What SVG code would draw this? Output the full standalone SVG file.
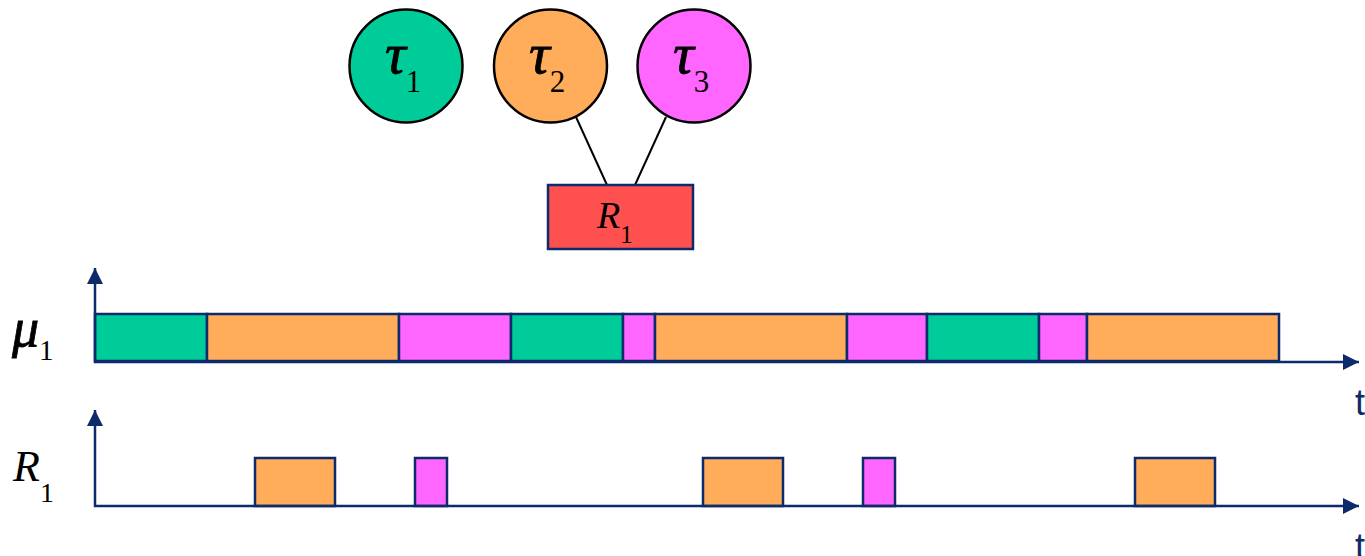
<svg xmlns="http://www.w3.org/2000/svg" width="1365" height="556" viewBox="0 0 1365 556">
  <defs>
    <marker id="arrow" viewBox="0 0 10 10" refX="10" refY="5" markerWidth="16" markerHeight="16" markerUnits="userSpaceOnUse" orient="auto-start-reverse">
      <path d="M0,0 L10,5 L0,10 Z" fill="#0D2A6B"/>
    </marker>
  </defs>
  <style>
    .task { stroke: #000; stroke-width: 2.5; }
    .res { fill: #FF5050; stroke: #0D2A6B; stroke-width: 2.5; }
    .seg { stroke: #0D2A6B; stroke-width: 2.5; }
    .g { fill: #00CC99; }
    .o { fill: #FFAD5B; }
    .m { fill: #FF66FF; }
    .axis { stroke: #0D2A6B; stroke-width: 2.5; fill: none; }
    .link { stroke: #000; stroke-width: 2; }
    text.math { font-family: "Liberation Serif", "Times New Roman", "DejaVu Serif", serif; font-style: italic; fill: #000; }
    tspan.sub { font-family: "Liberation Serif", "Times New Roman", "DejaVu Serif", serif; font-style: normal; }
    text.tlabel { font-family: "Liberation Sans", Arial, sans-serif; font-size: 36px; fill: #0D2A6B; }
  </style>

  <!-- task / resource graph -->
  <g id="connectors">
    <line class="link" x1="576" y1="117" x2="607" y2="185"/>
    <line class="link" x1="666" y1="117" x2="635" y2="185"/>
  </g>
  <g id="tau1">
    <circle class="task g" cx="406" cy="66" r="56.5"/>
    <text x="385" y="73" class="math" font-size="58" stroke="#000" stroke-width="0.8">τ<tspan class="sub" font-size="31" stroke="none" dy="19">1</tspan></text>
  </g>
  <g id="tau2">
    <circle class="task o" cx="550.5" cy="66" r="56.5"/>
    <text x="529" y="73" class="math" font-size="58" stroke="#000" stroke-width="0.8">τ<tspan class="sub" font-size="31" stroke="none" dy="19">2</tspan></text>
  </g>
  <g id="tau3">
    <circle class="task m" cx="694" cy="66" r="56.5"/>
    <text x="673" y="73" class="math" font-size="58" stroke="#000" stroke-width="0.8">τ<tspan class="sub" font-size="31" stroke="none" dy="19">3</tspan></text>
  </g>
  <g id="R1">
    <rect class="res" x="548" y="185" width="145" height="64"/>
    <text x="597" y="228" class="math" font-size="38">R<tspan class="sub" font-size="25" dy="15">1</tspan></text>
  </g>

  <!-- processor schedule mu1 -->
  <g id="mu1-chart">
    <text x="12" y="346" class="math" font-size="54" stroke="#000" stroke-width="0.8">μ<tspan class="sub" font-size="29" stroke="none" dy="14">1</tspan></text>
    <rect class="seg g" x="95" y="314" width="112" height="47"/>
    <rect class="seg o" x="207" y="314" width="192" height="47"/>
    <rect class="seg m" x="399" y="314" width="112" height="47"/>
    <rect class="seg g" x="511" y="314" width="112" height="47"/>
    <rect class="seg m" x="623" y="314" width="32" height="47"/>
    <rect class="seg o" x="655" y="314" width="192" height="47"/>
    <rect class="seg m" x="847" y="314" width="80" height="47"/>
    <rect class="seg g" x="927" y="314" width="112" height="47"/>
    <rect class="seg m" x="1039" y="314" width="48" height="47"/>
    <rect class="seg o" x="1087" y="314" width="192" height="47"/>
    <polyline class="axis" points="95,268 95,362 1359,362" marker-start="url(#arrow)" marker-end="url(#arrow)"/>
    <text x="1355" y="415" class="tlabel">t</text>
  </g>

  <!-- resource usage R1 -->
  <g id="R1-chart">
    <text x="13" y="481" class="math" font-size="44">R<tspan class="sub" font-size="28" dy="21">1</tspan></text>
    <rect class="seg o" x="255" y="458" width="80" height="48"/>
    <rect class="seg m" x="415" y="458" width="32" height="48"/>
    <rect class="seg o" x="703" y="458" width="80" height="48"/>
    <rect class="seg m" x="863" y="458" width="32" height="48"/>
    <rect class="seg o" x="1135" y="458" width="80" height="48"/>
    <polyline class="axis" points="95,410 95,506 1359,506" marker-start="url(#arrow)" marker-end="url(#arrow)"/>
    <text x="1355" y="559" class="tlabel">t</text>
  </g>
</svg>
